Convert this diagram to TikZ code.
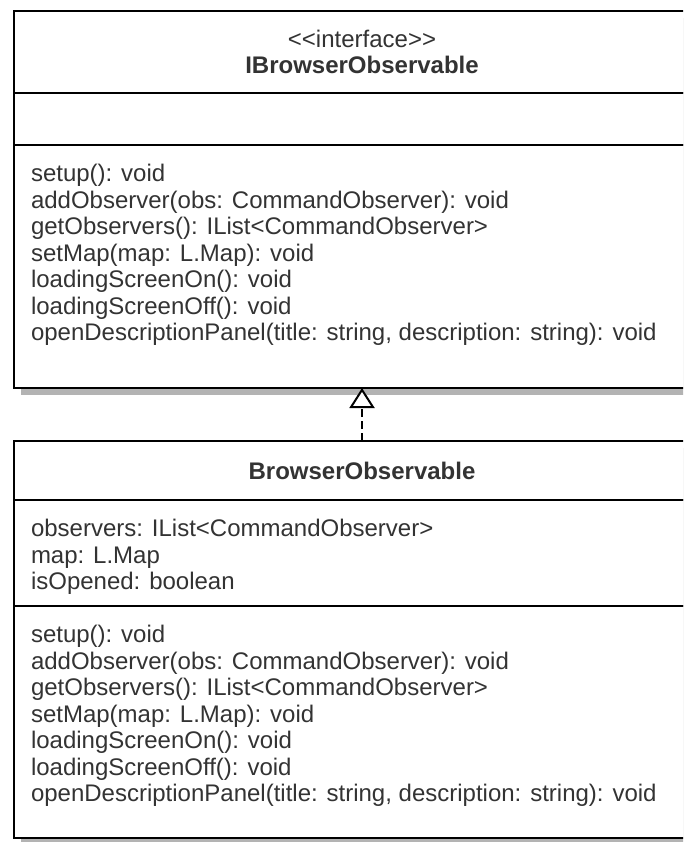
\documentclass[tikz,border=0pt]{standalone}
\usepackage{fontspec}
\setmainfont{Liberation Sans}
\usetikzlibrary{positioning, arrows.meta, calc, shadows}
\definecolor{cT}{RGB}{51,51,51}
\definecolor{cS}{RGB}{179,179,179}

\begin{document}
\begin{tikzpicture}[x=1pt, y=1pt, line width=2pt,
    compart/.style={draw, fill=white, anchor=north west, minimum width=696pt, inner sep=0pt, outer sep=0pt,
        drop shadow={shadow xshift=7pt, shadow yshift=-7pt, fill=cS, opacity=1}},
    members/.style={anchor=north west, inner sep=0pt, align=left, text=cT, font=\fontsize{24}{26.5}\selectfont},
    title/.style={inner sep=0pt, align=center, text=cT, font=\fontsize{24}{26.5}\selectfont}]
    \useasboundingbox (0,0) rectangle (683,-842);
    \clip (0,0) rectangle (683,-842);

    \node[compart, minimum height=82pt] (IHead) at (14,-11) {};
    \node[compart, minimum height=52pt] (IAttr) at (IHead.south west) {};
    \node[compart, minimum height=243pt] (IOps) at (IAttr.south west) {};
    \node[title] (ITitle) at (IHead.center) {<\kern0pt<interface>\kern0pt>\\\textbf{IBrowserObservable}};
    \node[members] (IOpsText) at ($(IOps.north west)+(16,-17)$) {\strut setup(): void\\
        addObserver(obs: CommandObserver): void\\
        getObservers(): IList<CommandObserver>\\
        setMap(map: L.Map): void\\
        loadingScreenOn(): void\\
        loadingScreenOff(): void\\
        openDescriptionPanel(title: string, description: string): void};

    \node[compart, minimum height=59pt] (OHead) at (14,-441) {};
    \node[compart, minimum height=106pt] (OAttr) at (OHead.south west) {};
    \node[compart, minimum height=232pt] (OOps) at (OAttr.south west) {};
    \node[title] (OTitle) at (OHead.center) {\textbf{BrowserObservable}};
    \node[members] (OAttrText) at ($(OAttr.north west)+(16,-17)$) {\strut observers: IList<CommandObserver>\\
        map: L.Map\\
        isOpened: boolean};
    \node[members] (OOpsText) at ($(OOps.north west)+(16,-17)$) {\strut setup(): void\\
        addObserver(obs: CommandObserver): void\\
        getObservers(): IList<CommandObserver>\\
        setMap(map: L.Map): void\\
        loadingScreenOn(): void\\
        loadingScreenOff(): void\\
        openDescriptionPanel(title: string, description: string): void};

    \draw[-{Triangle[fill=white, length=20pt, width=25pt]}, dash pattern=on 8pt off 4pt]
        (OHead.north) -- (IOps.south);
\end{tikzpicture}
\end{document}
